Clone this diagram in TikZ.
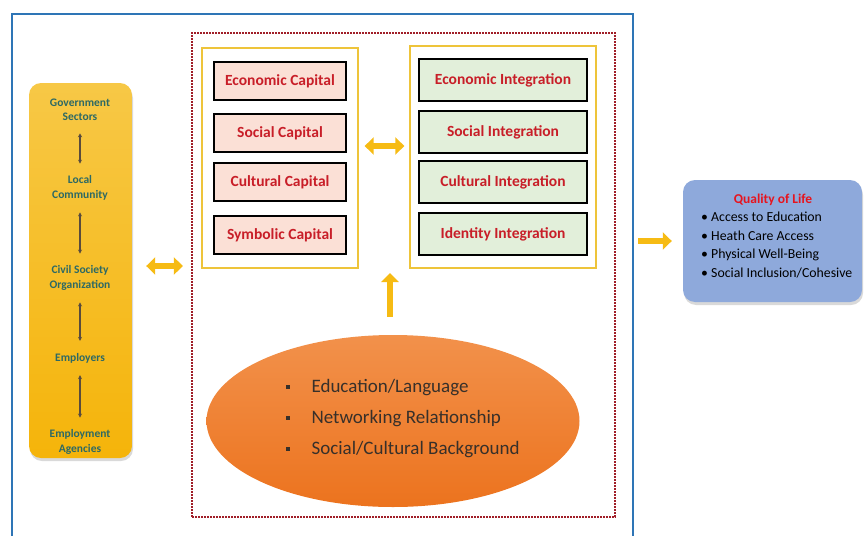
\documentclass[tikz,border=0pt]{standalone}
\usepackage{fontspec}
\setmainfont{Carlito}
\usetikzlibrary{positioning,arrows.meta,fit,shapes.geometric,shadows}

\definecolor{framebl}{RGB}{46,117,182}
\definecolor{dotred}{RGB}{160,30,40}
\definecolor{goldline}{RGB}{238,196,58}
\definecolor{capfill}{RGB}{251,224,214}
\definecolor{intfill}{RGB}{226,239,218}
\definecolor{boxred}{RGB}{200,30,40}
\definecolor{stakefg}{RGB}{45,105,100}
\definecolor{staketop}{RGB}{247,200,70}
\definecolor{stakebot}{RGB}{245,180,10}
\definecolor{ovaltop}{RGB}{242,145,75}
\definecolor{ovalbot}{RGB}{236,115,30}
\definecolor{ovaltext}{RGB}{55,48,42}
\definecolor{qolfill}{RGB}{142,169,219}
\definecolor{qolred}{RGB}{230,20,30}
\definecolor{arrowgold}{RGB}{246,187,20}
\definecolor{linkbrown}{RGB}{90,75,60}

\tikzset{
  capbox/.style={draw=black, line width=1.3pt, fill=capfill, minimum width=132pt,
    minimum height=38pt, font=\fontsize{15.5}{18}\selectfont\bfseries, text=boxred},
  intbox/.style={capbox, fill=intfill, minimum width=168pt, minimum height=42pt},
  goldframe/.style={draw=goldline, line width=2pt},
  fatarrow/.style={draw=arrowgold, line width=6.5pt, -{Triangle[width=17pt,length=9pt]}},
  fatboth/.style={fatarrow, {Triangle[width=17pt,length=9pt]}-{Triangle[width=17pt,length=9pt]}},
  link/.style={draw=linkbrown, line width=1.2pt,
    {Stealth[length=4pt,width=4pt]}-{Stealth[length=4pt,width=4pt]},
    shorten <=11pt, shorten >=11pt},
  actor/.style={text=stakefg, font=\fontsize{11.5}{14.5}\selectfont\bfseries,
    align=center, inner sep=1pt},
}

\begin{document}
\begin{tikzpicture}[x=1pt, y=-1pt]
    \useasboundingbox (0,0) rectangle (866,535);

    % Outer frame and the dotted frame round the capitals
    \node[draw=framebl, line width=2pt, minimum width=621pt, minimum height=560pt] (outer) at (322.5,294) {};
    \node[draw=dotred, line width=2.2pt, dash pattern=on 1.6pt off 1.4pt, minimum width=423pt, minimum height=484pt] (frame) at (403.5,275) {};

    % Stakeholder column
    \node[rounded corners=12pt, top color=staketop, bottom color=stakebot,
          minimum width=103pt, minimum height=375pt,
          drop shadow={opacity=0.3, shadow xshift=1pt, shadow yshift=-3pt}] (stake) at (80.5,270.5) {};
    \node[actor] (gov) at (80,110) {Government\\Sectors};
    \node[actor] (local) at (80,188) {Local\\Community};
    \node[actor] (civil) at (80,278) {Civil Society\\Organization};
    \node[actor] (empl) at (80,358) {Employers};
    \node[actor] (agency) at (80,442) {Employment\\Agencies};
    \foreach \a/\b in {gov/local, local/civil, civil/empl, empl/agency} {
        \draw[link] (\a) -- (\b);
    }

    % Capitals and integration
    \foreach \nm/\txt/\y in {ecocap/Economic Capital/81, soccap/Social Capital/133,
                             culcap/Cultural Capital/182, symcap/Symbolic Capital/235} {
        \node[capbox] (\nm) at (280,\y) {\txt};
    }
    \foreach \nm/\txt/\y in {ecoint/Economic Integration/80, socint/Social Integration/132,
                             culint/Cultural Integration/182, idint/Identity Integration/234} {
        \node[intbox] (\nm) at (503,\y) {\txt};
    }
    \node[goldframe, fit=(ecocap)(symcap), inner xsep=11pt, inner ysep=13pt] (capframe) {};
    \node[goldframe, fit=(ecoint)(idint), inner xsep=8pt, inner ysep=12pt] (intframe) {};

    \draw[fatboth, shorten <=6pt, shorten >=5pt] (capframe.east |- 0,146) -- (intframe.west |- 0,146);

    % Drivers
    \node[ellipse, minimum width=373pt, minimum height=172pt, top color=ovaltop, bottom color=ovalbot] (drivers) at (393,421) {};
    \node[text=ovaltext, font=\fontsize{19}{31}\selectfont, align=left, anchor=west] (drivtext) at (282,419)
        {\rule[4pt]{4pt}{4pt}\hspace{22pt}Education/Language\\
         \rule[4pt]{4pt}{4pt}\hspace{22pt}Networking Relationship\\
         \rule[4pt]{4pt}{4pt}\hspace{22pt}Social/Cultural Background};
    \coordinate (uptip) at (390,273);
    \draw[fatarrow, shorten <=18pt] (drivers.north -| uptip) -- (uptip);

    \draw[fatboth, shorten <=14pt, shorten >=8pt] (stake.east |- 0,266) -- (frame.west |- 0,266);

    % Quality of life
    \node[rounded corners=12pt, fill=qolfill, minimum width=179pt, minimum height=122pt,
          drop shadow={opacity=0.3, shadow xshift=1pt, shadow yshift=-3pt}] (qol) at (772.5,241) {};
    \node[text=qolred, font=\fontsize{13.5}{16}\selectfont\bfseries] (qoltitle) at (773,200) {Quality of Life};
    \node[font=\fontsize{13.8}{18.5}\selectfont, align=left, anchor=north west, inner sep=0pt] (qollist) at (701,212)
        {\textbullet\ Access to Education\\
         \textbullet\ Heath Care Access\\
         \textbullet\ Physical Well-Being\\
         \textbullet\ Social Inclusion/Cohesive};
    \draw[fatarrow, shorten <=4pt, shorten >=11pt] (outer.east |- qol.west) -- (qol.west);
\end{tikzpicture}
\end{document}
